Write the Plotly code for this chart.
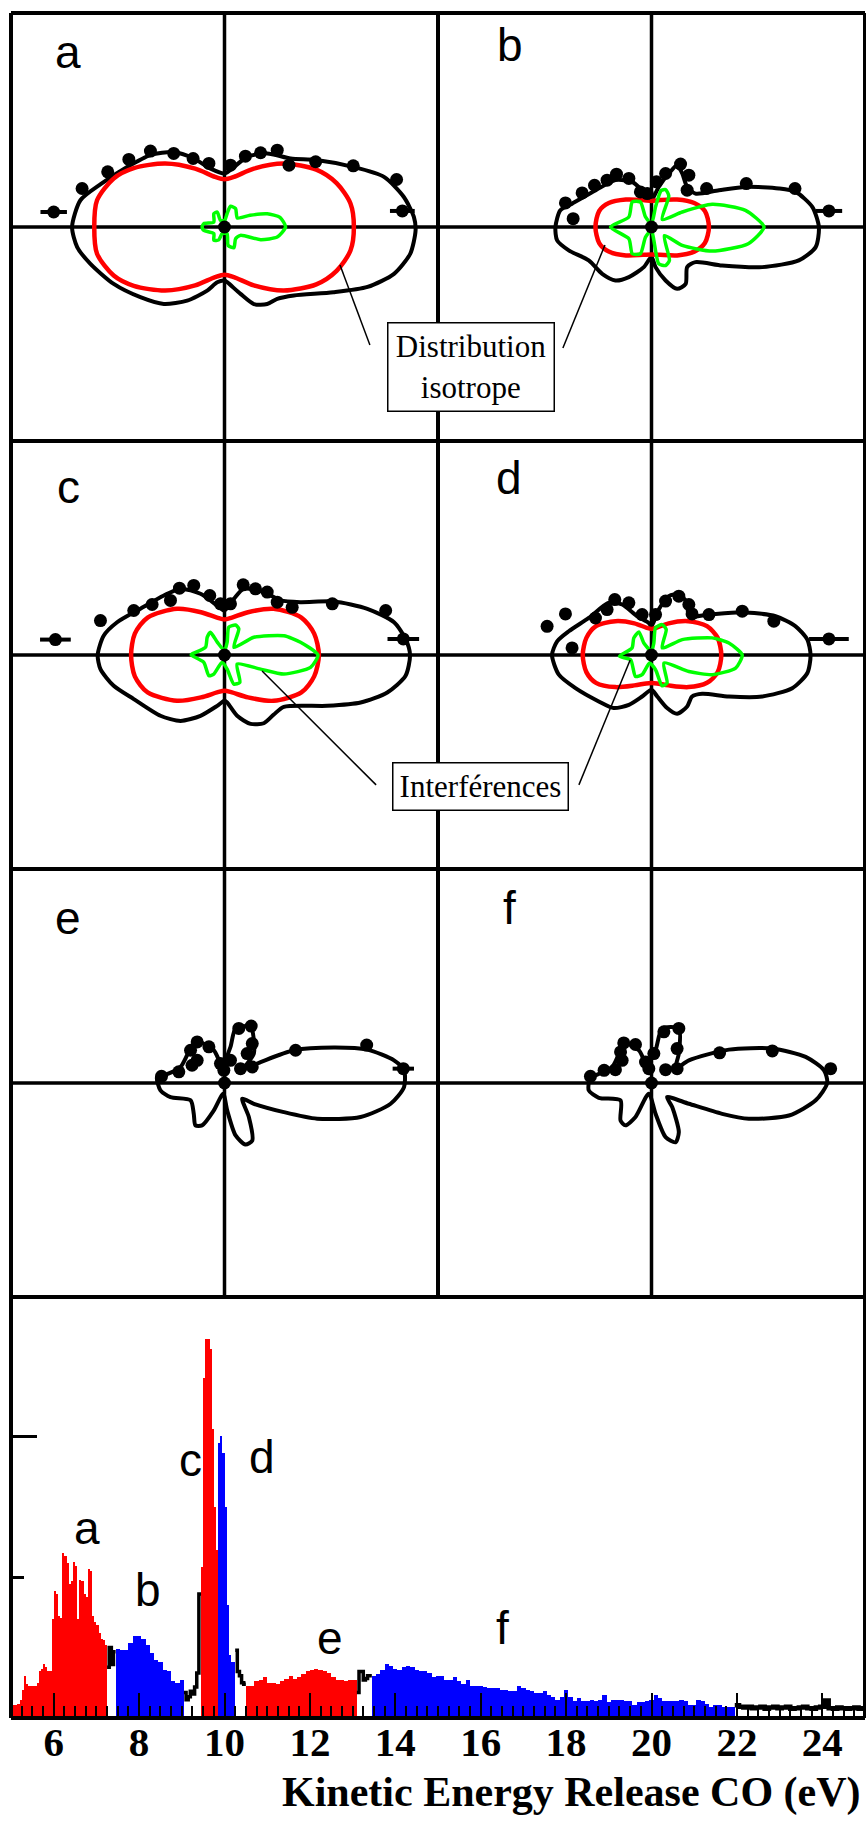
import numpy as np
import plotly.graph_objects as go

# ---------------- angular distributions (arb. units) ----------------
panel_labels = ["a", "b", "c", "d", "e", "f"]

fit_a_x = [-7.14,-6.75,-5.8,-4.56,-3.47,-2.38,-1.44,-0.66,0,0.44,1.06,2.0,3.1,4.3,6.06,7.47,8.4,8.87,8.95,8.7,7.94,6.7,5.1,3.25,2.47,2.0,1.375,0.75,0.125,0,-0.34,-0.81,-1.75,-2.84,-3.94,-5.19,-6.28,-6.9,-7.14]
fit_a_y = [0,1.25,2.0,2.8,3.36,3.5,3.2,2.73,2.5,2.8,3.28,3.44,3.2,3.13,2.8,2.34,1.4,0.47,-0.16,-1.25,-2.19,-2.8,-3.05,-3.2,-3.36,-3.6,-3.6,-3.125,-2.58,-2.5,-2.58,-2.97,-3.44,-3.6,-3.28,-2.66,-1.72,-0.94,0]
iso_a_x = [6.06,5.9,5.25,4.3,2.78,1.375,0.44,0,-0.44,-1.375,-2.78,-4.25,-5.19,-5.97,-6.1,-5.97,-5.19,-4.25,-2.78,-1.375,-0.44,0,0.44,1.375,2.78,4.3,5.25,5.9,6.06]
iso_a_y = [0,1.1,2.05,2.68,2.97,2.73,2.34,2.23,2.34,2.73,2.97,2.75,2.27,1.25,0,-1.25,-2.27,-2.75,-2.97,-2.73,-2.34,-2.23,-2.34,-2.73,-2.97,-2.68,-2.05,-1.1,0]
int_a_x = [2.86,2.6,2.0,1.2,0.6,0.52,0.28,0.12,0,-0.19,-0.34,-0.5,-0.5,-0.97,-1.05,-0.97,-0.5,-0.5,-0.27,-0.11,0.12,0.17,0.44,0.52,0.75,1.69,2.47,2.86]
int_a_y = [0,0.45,0.62,0.55,0.42,0.86,0.97,0.62,0.3,0.31,0.70,0.62,0.23,0.16,0,-0.16,-0.31,-0.62,-0.6,-0.31,-0.31,-0.86,-0.97,-0.55,-0.39,-0.59,-0.47,0]
dots_a_x = [-8.0,-6.67,-5.47,-4.48,-3.47,-2.38,-1.47,-0.73,0.28,0.98,1.69,2.47,3.02,4.27,6.03,8.06,8.33]
dots_a_y = [0.70,1.80,2.58,3.16,3.55,3.44,3.20,2.97,2.89,3.31,3.47,3.59,2.89,3.05,2.86,2.22,0.75]
dots_a_err = [0.62,0,0,0,0,0,0,0,0,0,0,0,0,0,0,0,0.58]

fit_b_x = [-4.5,-4.27,-3.72,-2.61,-1.69,-0.91,-0.44,-0.125,0,0.34,0.81,1.2,1.44,1.67,2.06,3.16,4.4,5.97,6.75,7.53,7.84,7.69,6.9,5.19,3.31,2.06,1.67,1.6,1.2,0.66,0.19,0,-0.36,-1.06,-1.69,-2.31,-2.94,-3.875,-4.42,-4.5]
fit_b_y = [0,0.78,1.09,1.72,2.19,2.11,1.72,1.41,1.25,1.875,2.5,2.89,2.5,1.875,1.56,1.72,1.875,1.8,1.64,0.94,0,-0.94,-1.56,-1.875,-1.8,-1.64,-1.875,-2.66,-2.89,-2.5,-1.875,-1.4,-1.875,-2.34,-2.5,-2.19,-1.56,-1.09,-0.625,0]
iso_b_x = [2.69,2.5,2.0,1.2,0.4,0,-0.4,-1.2,-2.0,-2.45,-2.625,-2.45,-2.0,-1.2,-0.4,0,0.4,1.2,2.0,2.5,2.69]
iso_b_y = [0,0.75,1.12,1.28,1.26,1.22,1.26,1.28,1.12,0.75,0,-0.75,-1.15,-1.33,-1.3,-1.28,-1.3,-1.33,-1.15,-0.75,0]
int_b_x = [5.27,4.4,2.84,1.44,0.5,0.81,0.66,0.45,0.19,0,-0.28,-0.52,-0.9,-1.06,-1.92,-1.06,-0.9,-0.52,-0.28,0,0.11,0.34,0.66,0.84,0.6,1.44,2.84,4.53,5.27]
int_b_y = [0,0.78,1.06,0.70,0.35,1.45,1.75,1.7,0.94,0.15,0.47,1.17,1.17,0.47,0,-0.55,-1.25,-1.25,-0.47,-0.15,-0.62,-1.72,-1.8,-1.56,-0.4,-0.86,-1.125,-0.78,0]
dots_b_x = [-4.03,-3.67,-3.25,-2.67,-2.08,-1.64,-1.06,-0.52,-0.2,0.23,0.66,1.36,1.75,1.67,2.58,4.44,6.72,8.31]
dots_b_y = [1.125,0.39,1.59,1.95,2.19,2.47,2.27,1.64,1.56,2.11,2.5,2.94,2.42,1.72,1.80,2.03,1.80,0.75]
dots_b_err = [0,0,0,0,0,0,0,0,0,0,0,0,0,0,0,0,0,0.62]

fit_c_x = [-5.94,-5.66,-5.03,-3.94,-2.84,-2.06,-1.125,-0.34,0,0.44,0.91,1.84,2.625,3.56,5.125,6.69,7.94,8.48,8.69,8.48,7.625,6.375,4.81,2.78,2.31,1.84,1.22,0.59,0.125,0,-0.34,-1.125,-2.06,-3.0,-4.25,-5.19,-5.81,-5.94]
fit_c_y = [0,0.9,1.53,2.16,2.78,3.1,2.86,2.31,2.08,2.625,3.1,2.94,2.55,2.47,2.5,2.16,1.53,0.75,0,-0.97,-1.75,-2.22,-2.375,-2.42,-2.78,-3.19,-3.22,-2.84,-2.22,-2.14,-2.375,-2.84,-3.08,-2.84,-2.06,-1.44,-0.66,0]
iso_c_x = [4.42,4.2,3.6,2.3,1.1,0.35,0,-0.35,-1.1,-2.22,-3.6,-4.2,-4.375,-4.2,-3.6,-2.22,-1.1,-0.35,0,0.35,1.1,2.3,3.6,4.2,4.42]
iso_c_y = [0,1.0,1.75,2.16,2.0,1.75,1.66,1.75,2.0,2.16,1.75,1.0,0,-1.0,-1.75,-2.14,-1.98,-1.75,-1.67,-1.75,-1.98,-2.14,-1.75,-1.0,0]
int_c_x = [4.375,3.56,2.78,1.375,0.44,0.67,0.52,0.2,0.125,0,-0.34,-0.66,-0.81,-0.89,-1.52,-1.56,-0.97,-0.73,-0.5,-0.11,0.125,0.44,0.72,0.59,1.69,2.78,4.03,4.375]
int_c_y = [0,0.6,0.9,0.83,0.36,1.22,1.4,1.3,0.6,0.2,0.6,1.06,0.83,0.36,0.05,0,-0.34,-0.97,-0.89,-0.34,-0.66,-1.36,-1.28,-0.42,-0.66,-0.89,-0.58,0]
dots_c_x = [-7.92,-5.81,-4.25,-3.39,-2.53,-2.11,-1.44,-0.69,-0.19,0.28,0.875,1.45,2.0,2.47,3.17,5.05,7.55,8.375]
dots_c_y = [0.72,1.61,2.08,2.36,2.55,3.125,3.25,2.78,2.39,2.39,3.28,3.09,2.94,2.47,2.23,2.39,2.08,0.75]
dots_c_err = [0.72,0,0,0,0,0,0,0,0,0,0,0,0,0,0,0,0,0.74]

fit_d_x = [-4.66,-4.42,-3.875,-2.94,-2.0,-1.375,-0.67,-0.125,0,0.34,0.81,1.28,1.67,1.75,2.69,4.25,5.81,6.75,7.3,7.45,7.3,6.59,5.19,3.625,2.375,1.9,1.67,1.2,0.73,0.27,0,-0.44,-1.06,-1.77,-2.47,-3.56,-4.34,-4.66]
fit_d_y = [0,0.64,1.11,1.73,2.44,2.36,1.81,1.5,1.34,2.125,2.75,2.83,2.44,1.81,1.89,2.0,1.81,1.34,0.72,0,-0.84,-1.55,-1.94,-1.94,-1.81,-1.94,-2.41,-2.75,-2.48,-1.94,-1.625,-1.94,-2.33,-2.48,-2.17,-1.55,-0.92,0]
iso_d_x = [3.27,3.1,2.6,1.72,0.8,0.25,0,-0.25,-0.8,-1.69,-2.6,-3.05,-3.22,-3.05,-2.6,-1.69,-0.8,-0.25,0,0.25,0.8,1.72,2.6,3.1,3.27]
iso_d_y = [0,0.8,1.35,1.58,1.48,1.28,1.22,1.28,1.48,1.58,1.35,0.8,0,-0.8,-1.3,-1.5,-1.42,-1.33,-1.31,-1.33,-1.42,-1.5,-1.3,-0.8,0]
int_d_x = [4.25,3.625,2.84,1.44,0.5,0.69,0.5,0.19,0.11,0,-0.36,-0.59,-0.83,-0.91,-1.5,-0.98,-0.75,-0.44,-0.09,0.19,0.5,0.73,0.58,1.75,2.84,3.94,4.25]
int_d_y = [0,0.56,0.8,0.72,0.33,1.19,1.42,1.27,0.56,0.17,0.56,1.08,0.8,0.33,-0.06,-0.22,-1.0,-0.92,-0.375,-0.69,-1.44,-1.31,-0.375,-0.77,-0.92,-0.61,0]
dots_d_x = [-4.89,-4.03,-3.72,-2.625,-2.08,-1.72,-1.06,-0.44,0.19,0.66,1.28,1.75,1.9,2.69,4.25,5.73,8.31]
dots_d_y = [1.34,1.92,0.33,1.73,2.125,2.59,2.44,1.89,1.89,2.52,2.75,2.36,1.92,1.89,2.05,1.58,0.75]
dots_d_err = [0,0,0,0,0,0,0,0,0,0,0,0,0,0,0,0,0.93]

fit_e_x = [-3.16,-3.0,-2.53,-1.59,-1.44,-1.36,-1.05,-0.5,-0.06,0.125,0.52,0.98,1.3,1.14,0.83,1.375,2.78,4.34,6.375,7.78,8.41,8.41,7.94,6.69,5.125,3.25,1.69,0.91,1.375,1.22,0.52,0.28,-0.11,-0.5,-1.28,-1.67,-2.06,-2.84,-3.16]
fit_e_y = [0.28,-0.34,-0.66,-0.81,-1.44,-1.98,-1.98,-1.28,-0.5,-1.28,-2.45,-2.875,-2.69,-1.59,-0.73,-0.97,-1.36,-1.67,-1.59,-0.97,-0.19,0.59,1.06,1.56,1.66,1.53,0.98,0.67,1.375,2.625,2.55,1.69,0.83,1.53,1.92,1.45,0.75,0.36,0.28]
dots_e_x = [-2.95,-2.14,-1.52,-1.28,-1.59,-1.28,-0.73,-0.19,-0.03,0.28,0.67,1.25,1.30,1.06,0.75,1.3,3.33,6.66,8.375]
dots_e_y = [0.31,0.52,0.83,1.06,1.53,1.92,1.69,0.91,0.59,1.06,2.55,2.66,1.84,1.375,0.67,0.75,1.53,1.77,0.67]
dots_e_err = [0,0,0,0,0,0,0,0,0,0,0,0,0,0,0,0,0,0,0.5]

fit_f_x = [-2.86,-2.94,-2.47,-1.45,-1.45,-1.22,-0.75,-0.125,0.19,0.66,1.125,1.28,0.97,0.73,1.75,3.31,4.56,6.44,7.69,8.23,8.08,7.22,5.66,3.625,1.75,1.125,1.28,1.28,0.5,0.19,-0.2,-0.59,-1.375,-1.53,-1.84,-2.625,-2.86]
fit_f_y = [0.28,-0.34,-0.69,-0.81,-1.75,-1.98,-1.59,-0.5,-1.44,-2.53,-2.77,-2.3,-1.125,-0.66,-0.97,-1.44,-1.67,-1.52,-0.81,0,0.59,1.22,1.61,1.56,1.06,0.67,1.375,2.55,2.55,1.53,0.83,1.53,1.92,1.375,0.75,0.36,0.28]
dots_f_x = [-2.86,-2.22,-1.69,-1.375,-1.45,-1.3,-0.75,-0.28,-0.125,0.11,0.58,1.28,1.2,0.66,1.2,3.19,5.66,8.39]
dots_f_y = [0.31,0.59,0.625,1.06,1.45,1.875,1.8,0.98,0.67,1.375,2.39,2.55,1.61,0.625,0.67,1.41,1.5,0.67]
dots_f_err = [0]*18

# ---------------- kinetic energy release spectrum ----------------
ker_a_start, ker_a_step = 5.0, 0.05
ker_a = [9,9,9,10,13,20,30,24,23,23,23,23,25,33,35,38,36,33,33,70,90,88,72,71,117,115,110,95,97,111,108,70,98,97,88,86,106,104,72,68,66,60,56,55,52]
gap1_start, gap1_step = 7.25, 0.05
gap1 = [36,50,38,47]
ker_b_start, ker_b_step = 7.45, 0.1
ker_b = [49,48,48,53,58,58,56,52,46,41,40,34,33,26,25,27]
gap2_start, gap2_step = 9.05, 0.05
gap2 = [18,13,15,19,17,22,32,88]
ker_c_start, ker_c_step = 9.45, 0.05
ker_c = [107,241,269,269,262,205,150,119]
ker_d_start, ker_d_step = 9.85, 0.05
ker_d = [195,200,188,150,80,45,40,40]
gap3_start, gap3_step = 10.25, 0.05
gap3 = [48,33,30,25,24]
ker_e_start, ker_e_step = 10.5, 0.1
ker_e = [23,23,26,27,29,25,25,24,26,28,30,28,29,31,33,34,35,34,33,32,29,27,27,26,27,27]
gap4_start, gap4_step = 13.1, 0.05
gap4 = [18,33,33,27,28,30,30]
ker_f_start, ker_f_step = 13.45, 0.1
ker_f = [30,31,34,38,37,35,34,36,37,36,34,33,33,32,29,30,
         30,27,27,29,26,24,27,23,23,23,
         22,21,21,21,20,20,19,19,23,21,
         20,19,18,18,19,16,15,13,15,20,
         15,12,14,12,12,13,12,13,16,11,
         13,13,13,12,12,9,11,11,12,13,
         16,14,12,12,12,12,13,12,9,9,
         13,12,10,8,9,9,8,8,8]
tail_start, tail_step = 21.95, 0.1
tail = [9,8,7.5,8,7,7.5,8,6.5,7.5,8,7,7.5,8,6.5,7,7.5,8,7,6.5,7.5,8,12.5,7,6.5,7.5,7,6.5,7,7.5,6.5,7]

xtick_vals = [6, 8, 10, 12, 14, 16, 18, 20, 22, 24]
xtick_text = [f"<b>{v}</b>" for v in xtick_vals]

RED, BLUE, GREEN = "#ff0000", "#0000ff", "#00ff00"
SERIF = "Liberation Serif, Times New Roman, serif"

fig = go.Figure()

panels = {
    "a": (fit_a_x, fit_a_y, iso_a_x, iso_a_y, int_a_x, int_a_y, dots_a_x, dots_a_y, dots_a_err),
    "b": (fit_b_x, fit_b_y, iso_b_x, iso_b_y, int_b_x, int_b_y, dots_b_x, dots_b_y, dots_b_err),
    "c": (fit_c_x, fit_c_y, iso_c_x, iso_c_y, int_c_x, int_c_y, dots_c_x, dots_c_y, dots_c_err),
    "d": (fit_d_x, fit_d_y, iso_d_x, iso_d_y, int_d_x, int_d_y, dots_d_x, dots_d_y, dots_d_err),
    "e": (fit_e_x, fit_e_y, None, None, None, None, dots_e_x, dots_e_y, dots_e_err),
    "f": (fit_f_x, fit_f_y, None, None, None, None, dots_f_x, dots_f_y, dots_f_err),
}

W, H = 866, 1823
def px(x): return x / W
def py(y): return 1 - y / H

col_dom = [[px(11), px(438)], [px(438), px(865)]]
row_dom = [[py(441), py(13)], [py(869), py(441)], [py(1297), py(869)]]

layout = dict(width=W, height=H, margin=dict(l=0, r=0, t=0, b=0), autosize=False,
              paper_bgcolor="white", plot_bgcolor="rgba(0,0,0,0)", showlegend=False,
              barmode="overlay", bargap=0)

shapes = []
for i, lab in enumerate(panel_labels):
    n = i + 1
    xa, ya = ("x" if n == 1 else f"x{n}"), ("y" if n == 1 else f"y{n}")
    fx, fy, ix, iy, gx, gy, dx, dy, de = panels[lab]
    fig.add_trace(go.Scatter(x=fx, y=fy, mode="lines", xaxis=xa, yaxis=ya,
                             line=dict(color="black", width=4, shape="spline", smoothing=0.7)))
    if ix is not None:
        fig.add_trace(go.Scatter(x=ix, y=iy, mode="lines", xaxis=xa, yaxis=ya,
                                 line=dict(color=RED, width=4.5, shape="spline", smoothing=0.8)))
        fig.add_trace(go.Scatter(x=gx, y=gy, mode="lines", xaxis=xa, yaxis=ya,
                                 line=dict(color=GREEN, width=3.5, shape="spline", smoothing=0.6)))
    fig.add_trace(go.Scatter(x=dx, y=dy, mode="markers", xaxis=xa, yaxis=ya,
                             marker=dict(color="black", size=13),
                             error_x=dict(type="data", array=de, color="black", thickness=4, width=0)))
    fig.add_trace(go.Scatter(x=[0], y=[0], mode="markers", xaxis=xa, yaxis=ya,
                             marker=dict(color="black", size=13)))
    r, c = divmod(i, 2)
    axcommon = dict(range=[-10, 10], showgrid=False, zeroline=False, showline=False,
                    ticks="", showticklabels=False, fixedrange=True)
    layout["xaxis" if n == 1 else f"xaxis{n}"] = dict(domain=col_dom[c], anchor=ya, **axcommon)
    layout["yaxis" if n == 1 else f"yaxis{n}"] = dict(domain=row_dom[r], anchor=xa, **axcommon)
    shapes.append(dict(type="line", xref=xa, yref=f"{ya} domain", x0=0, x1=0, y0=0, y1=1,
                       layer="below", line=dict(color="black", width=3.5)))
    shapes.append(dict(type="line", xref=f"{xa} domain", yref=ya, x0=0, x1=1, y0=0, y1=0,
                       layer="below", line=dict(color="black", width=3.5)))

# histogram
def bars(start, step, counts, color):
    x = start + step * (np.arange(len(counts)) + 0.5)
    return go.Bar(x=x, y=counts, width=step, xaxis="x7", yaxis="y7",
                  marker=dict(color=color, line=dict(width=0)))

def steps(start, step, counts, width=3):
    edges = start + step * np.arange(len(counts) + 1)
    return go.Scatter(x=edges, y=list(counts) + [counts[-1]], mode="lines", xaxis="x7", yaxis="y7",
                      line=dict(color="black", width=width, shape="hv"))

for s, st, cts in [(gap1_start, gap1_step, gap1), (gap2_start, gap2_step, gap2),
                   (gap3_start, gap3_step, gap3), (gap4_start, gap4_step, gap4)]:
    fig.add_trace(steps(s, st, cts, 3.5))
fig.add_trace(steps(tail_start, tail_step, tail, 4.5))
fig.add_trace(bars(ker_a_start, ker_a_step, ker_a, RED))
fig.add_trace(bars(ker_b_start, ker_b_step, ker_b, BLUE))
fig.add_trace(bars(ker_d_start, ker_d_step, ker_d, BLUE))
fig.add_trace(bars(ker_c_start, ker_c_step, ker_c, RED))
fig.add_trace(bars(ker_e_start, ker_e_step, ker_e, RED))
fig.add_trace(bars(ker_f_start, ker_f_step, ker_f, BLUE))

layout["xaxis7"] = dict(domain=[px(11), px(865)], anchor="y7", range=[5, 25], showgrid=False,
                        zeroline=False, showline=False,
                        tickmode="array", tickvals=xtick_vals, ticktext=xtick_text,
                        ticks="inside", ticklen=25, tickwidth=2,
                        tickcolor="black", ticklabelstandoff=-4,
                        tickfont=dict(family=SERIF, size=41, color="black"),
                        minor=dict(ticks="inside", dtick=0.25, tick0=5, ticklen=12, tickwidth=2, tickcolor="black"),
                        fixedrange=True)
layout["yaxis7"] = dict(domain=[py(1718), py(1297)], anchor="x7", range=[0, 298.6], showgrid=False,
                        zeroline=False, showline=False,
                        tickmode="array", tickvals=[200], ticks="inside", ticklen=26, tickwidth=3,
                        tickcolor="black", showticklabels=False,
                        minor=dict(ticks="inside", tickvals=[100], ticklen=13, tickwidth=3, tickcolor="black"),
                        fixedrange=True)

fig.update_layout(**layout)

frame = dict(color="black", width=4)
for yy in [13, 441, 869, 1297, 1718]:
    shapes.append(dict(type="line", xref="paper", yref="paper", x0=px(11), x1=px(865),
                       y0=py(yy), y1=py(yy), layer="above", line=frame))
for xx, ytop, ybot in [(11, 13, 1718), (865, 13, 1718), (438, 13, 1297)]:
    shapes.append(dict(type="line", xref="paper", yref="paper", x0=px(xx), x1=px(xx),
                       y0=py(ytop), y1=py(ybot), layer="above", line=frame))

ann = []
letter_font = dict(family="Liberation Sans, Arial, sans-serif", size=46, color="black")
letter_pos = {"a": (-7.33, 8.2), "b": (-6.63, 8.5), "c": (-7.33, 7.85),
              "d": (-6.67, 8.25), "e": (-7.33, 7.7), "f": (-6.63, 8.2)}
for i, lab in enumerate(panel_labels):
    n = i + 1
    xa, ya = ("x" if n == 1 else f"x{n}"), ("y" if n == 1 else f"y{n}")
    lx, ly = letter_pos[lab]
    ann.append(dict(x=lx, y=ly, xref=xa, yref=ya, text=lab, showarrow=False, font=letter_font,
                    xanchor="center", yanchor="middle"))

hist_letters = [("a", 6.79, 135), ("b", 8.22, 91), ("c", 9.2, 183), ("d", 10.88, 185),
                ("e", 12.47, 57), ("f", 16.5, 64)]
for t, x, y in hist_letters:
    ann.append(dict(x=x, y=y, xref="x7", yref="y7", text=t, showarrow=False, font=letter_font,
                    xanchor="center", yanchor="middle"))

box_font = dict(family=SERIF, size=31, color="black")
ann.append(dict(x=px(471), y=py(367), xref="paper", yref="paper", text="Distribution<br>isotrope",
                xanchor="center", yanchor="middle",
                showarrow=False, font=box_font, bgcolor="white", bordercolor="black",
                borderwidth=1.5, borderpad=0, width=165, height=87))
ann.append(dict(x=px(480.5), y=py(786.5), xref="paper", yref="paper", text="Interférences",
                xanchor="center", yanchor="middle",
                showarrow=False, font=box_font, bgcolor="white", bordercolor="black",
                borderwidth=1.5, borderpad=0, width=174, height=46))
ann.append(dict(x=px(863), y=py(1792), xref="paper", yref="paper", xanchor="right", yanchor="middle",
                text="<b>Kinetic Energy Release CO (eV)</b>", showarrow=False,
                font=dict(family=SERIF, size=42, color="black")))

leader = dict(color="black", width=1.5)
shapes += [
    dict(type="line", xref="x", yref="y", x0=6.81, y0=-5.51, x1=5.41, y1=-1.78, line=leader),
    dict(type="line", xref="x2", yref="y2", x0=-4.15, y0=-5.65, x1=-2.18, y1=-0.84, line=leader),
    dict(type="line", xref="x3", yref="y3", x0=7.1, y0=-6.07, x1=1.76, y1=-0.75, line=leader),
    dict(type="line", xref="x4", yref="y4", x0=-3.4, y0=-6.07, x1=-1.0, y1=-0.23, line=leader),
]
fig.update_layout(annotations=ann, shapes=shapes)

fig.write_html("out.html", config={"displayModeBar": False},
               post_script="document.body.style.margin='0';document.body.style.overflow='hidden';")
